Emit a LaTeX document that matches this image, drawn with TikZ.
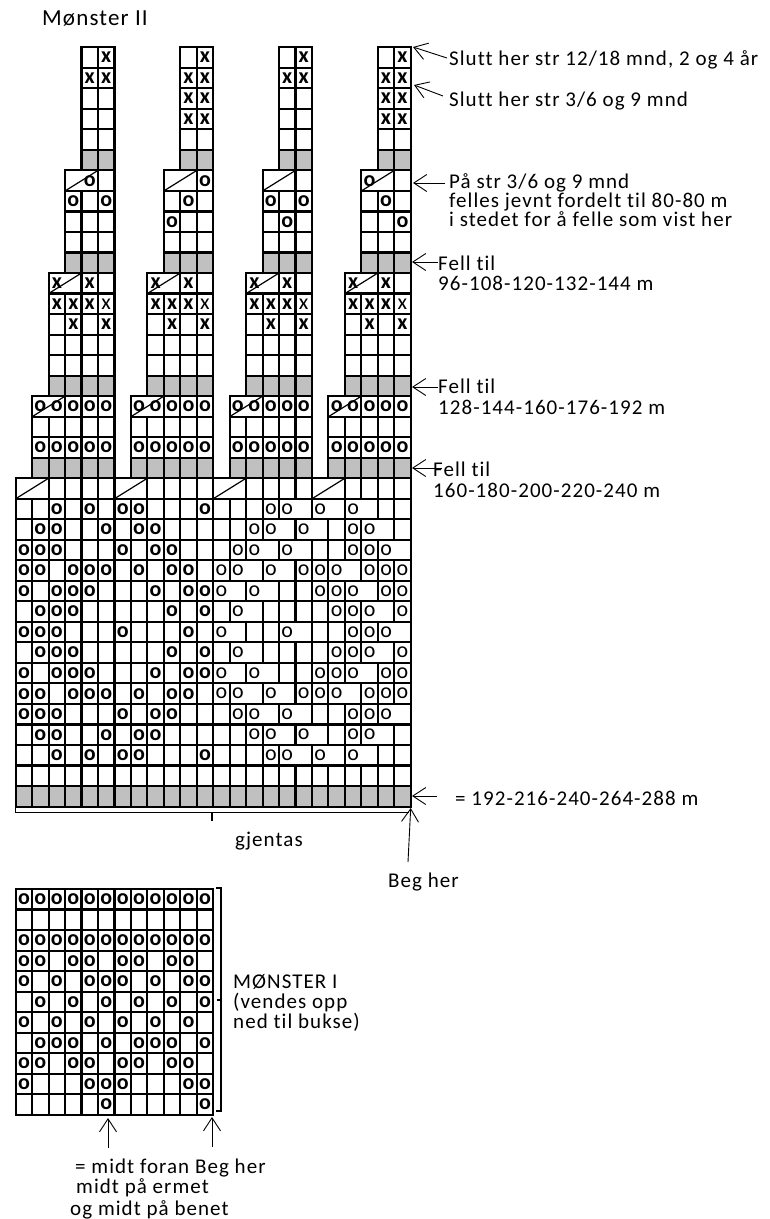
\documentclass[tikz,border=0pt]{standalone}
\usepackage{fontspec}
\setmainfont[Ligatures={NoCommon,NoContextual}]{Carlito}
\newfontfamily\lblfont[LetterSpace=5,Ligatures={NoCommon,NoContextual}]{Carlito}
\usetikzlibrary{arrows.meta}
\definecolor{cellgray}{HTML}{C0C0C0}
\tikzset{
  gridln/.style={line width=2.1pt, line cap=rect},
  slashln/.style={line width=1.2pt},
  symb/.style={inner sep=0pt, font=\fontsize{22}{22}\selectfont\bfseries},
  symt/.style={inner sep=0pt, font=\fontsize{22}{22}\selectfont},
  lbl/.style={inner sep=0pt, anchor=base west, font=\lblfont\fontsize{21}{21}\selectfont},
  note/.style={-{Straight Barb[length=13pt,width=17pt]}, line width=0.9pt},
  brk/.style={line width=1.3pt},
}
% symbols in a row: row, list of columns, style, character
\newcommand\symrow[4]{\foreach \c in {#2}{\pgfmathtruncatemacro\cc{\c}\node[#3] (s-#1-\cc) at (\cc+0.5,#1+0.5) {#4};}}
% pattern row: row, bold cols, thin cols, drawn vertical boundaries
\newcommand\prow[4]{%
  \foreach \b in {#4} \draw[gridln] (\b,#1) -- (\b,#1+1);
  \symrow{#1}{#2}{symb}{o}%
  \symrow{#1}{#3}{symt}{o}}
\newcommand\PA[1]{\prow{#1}{2,4,6,7,11}{15,16,18,20}{0,...,16,18,20,22,23,24}}
\newcommand\PB[1]{\prow{#1}{1,2,5,7,8}{14,15,17,20,21}{0,...,15,17,19,20,21,23,24}}
\newcommand\PC[1]{\prow{#1}{0,1,2,6,8,9}{13,14,16,20,21,22}{0,...,14,16,18,19,20,21,22,24}}
\newcommand\PD[1]{\prow{#1}{0,1,3,4,5,7,9,10}{12,13,15,17,18,19,21,22,23}{0,...,13,15,17,18,19,21,22,23,24}}
\newcommand\PE[1]{\prow{#1}{0,2,3,4,8,10,11}{12,14,18,19,20,22,23}{0,...,12,14,16,17,18,19,20,22,23,24}}
\newcommand\PF[1]{\prow{#1}{1,2,3,9,11}{13,19,20,21,23}{0,...,13,15,16,17,18,19,20,21,23,24}}
\newcommand\PG[1]{\prow{#1}{0,1,2,6,10}{12,16,20,21,22}{0,...,12,14,15,16,18,19,20,21,22,24}}
\begin{document}
\begin{tikzpicture}[x=1pt,y=-1pt]
\useasboundingbox (0,0) rectangle (769,1219);

% ===== Mønster II chart =====
\begin{scope}[shift={(15.7,47.3)}, x=16.46pt, y=-20.52pt]
  % gray fills
  \foreach \k in {0,...,3}{
    \pgfmathtruncatemacro\o{6*\k}
    \fill[cellgray] (\o+4,5) rectangle (\o+6,6);
    \fill[cellgray] (\o+3,10) rectangle (\o+6,11);
    \fill[cellgray] (\o+2,16) rectangle (\o+6,17);
    \fill[cellgray] (\o+1,20) rectangle (\o+6,21);
  }
  \fill[cellgray] (0,36) rectangle (24,37);
  % towers
  \foreach \k in {0,...,3}{
    \pgfmathtruncatemacro\o{6*\k}
    \foreach \r in {0,...,5} \foreach \c in {4,5} \draw[gridln] (\o+\c,\r) rectangle ++(1,1);
    \draw[gridln] (\o+3,6) rectangle ++(2,1);
    \draw[gridln] (\o+5,6) rectangle ++(1,1);
    \foreach \r in {7,...,10} \foreach \c in {3,4,5} \draw[gridln] (\o+\c,\r) rectangle ++(1,1);
    \draw[gridln] (\o+2,11) rectangle ++(2,1);
    \foreach \c in {4,5} \draw[gridln] (\o+\c,11) rectangle ++(1,1);
    \foreach \r in {12,...,16} \foreach \c in {2,...,5} \draw[gridln] (\o+\c,\r) rectangle ++(1,1);
    \draw[gridln] (\o+1,17) rectangle ++(2,1);
    \foreach \c in {3,4,5} \draw[gridln] (\o+\c,17) rectangle ++(1,1);
    \foreach \r in {18,19,20} \foreach \c in {1,...,5} \draw[gridln] (\o+\c,\r) rectangle ++(1,1);
    \draw[gridln] (\o,21) rectangle ++(2,1);
    \foreach \c in {2,...,5} \draw[gridln] (\o+\c,21) rectangle ++(1,1);
    % decrease slashes
    \draw[slashln] (\o+3,7) -- (\o+5,6);
    \draw[slashln] (\o+2,12) -- (\o+4,11);
    \draw[slashln] (\o+1,18) -- (\o+3,17);
    \draw[slashln] (\o,22) -- (\o+2,21);
    % common symbols
    \symrow{0}{\o+5}{symb}{x}
    \symrow{1}{\o+4,\o+5}{symb}{x}
    \symrow{11}{\o+2,\o+4}{symb}{x}
    \symrow{12}{\o+2,\o+3,\o+4}{symb}{x}
    \symrow{12}{\o+5}{symt}{x}
    \symrow{13}{\o+3,\o+5}{symb}{x}
    \symrow{17}{\o+1,\o+2,\o+3,\o+4,\o+5}{symb}{o}
    \symrow{19}{\o+1,\o+2,\o+3,\o+4,\o+5}{symb}{o}
  }
  \symrow{2}{10,11,22,23}{symb}{x}
  \symrow{3}{10,11,22,23}{symb}{x}
  \symrow{6}{4,11,21}{symb}{o}
  \symrow{7}{3,5,10,15,17,22}{symb}{o}
  \symrow{8}{9,16,23}{symb}{o}
  % body rows
  \foreach \r in {22,...,37} \draw[gridln] (0,\r) -- (24,\r);
  \foreach \r in {35,36} \foreach \b in {0,...,24} \draw[gridln] (\b,\r) -- (\b,\r+1);
  \PA{22}\PB{23}\PC{24}\PD{25}\PE{26}\PF{27}\PG{28}
  \PF{29}\PE{30}\PD{31}\PC{32}\PB{33}\PA{34}
\end{scope}

% ===== Mønster I chart =====
\begin{scope}[shift={(15.7,889)}, x=16.46pt, y=-20.52pt]
  \foreach \r in {0,...,10} \foreach \c in {0,...,11} \draw[gridln] (\c,\r) rectangle ++(1,1);
  \foreach \r/\cols in {0/{0,...,11}, 2/{0,...,11}, 3/{0,1,3,4,6,7,9,10},
      4/{0,2,4,5,6,8,10,11}, 5/{1,3,5,7,9,11}, 6/{0,2,4,6,8,10},
      7/{1,2,3,5,7,8,9,11}, 8/{0,1,3,4,6,7,9,10}, 9/{0,4,5,6,10,11}, 10/{5,11}}{
    \foreach \c in \cols \node[symb] (m-\r-\c) at (\c+0.5,\r+0.5) {o};
  }
\end{scope}

% ===== texts =====
\node[lbl] (title) at (42,25) {\fontsize{23}{23}\selectfont Mønster II};
\node[lbl] (l1) at (449,65) {Slutt her str 12/18 mnd, 2 og 4 år};
\node[lbl] (l2) at (449,106) {Slutt her str 3/6 og 9 mnd};
\node[lbl] (l3a) at (449,188) {På str 3/6 og 9 mnd};
\node[lbl] (l3b) at (449,207) {felles jevnt fordelt til 80-80 m};
\node[lbl] (l3c) at (449,226) {i stedet for å felle som vist her};
\node[lbl] (l4a) at (438,270) {Fell til};
\node[lbl] (l4b) at (438,290) {96-108-120-132-144 m};
\node[lbl] (l5a) at (438,393) {Fell til};
\node[lbl] (l5b) at (438,414) {128-144-160-176-192 m};
\node[lbl] (l6a) at (433,476) {Fell til};
\node[lbl] (l6b) at (433,497) {160-180-200-220-240 m};
\node[lbl] (l7) at (455,805) {= 192-216-240-264-288 m};
\node[lbl] (beg) at (388,887) {Beg her};
\node[lbl] (gj) at (235,846) {gjentas};
\node[lbl] (m1a) at (233,988) {MØNSTER I};
\node[lbl] (m1b) at (233,1008) {(vendes opp};
\node[lbl] (m1c) at (233,1028) {ned til bukse)};
\node[lbl] (b1) at (75,1173) {= midt foran Beg her};
\node[lbl] (b2) at (76,1193) {midt på ermet};
\node[lbl] (b3) at (70,1215) {og midt på benet};

% ===== arrows =====
\coordinate (a1t) at (413,47);   \coordinate (a1s) at (447,58);
\coordinate (a2t) at (414,85);   \coordinate (a2s) at (443,96);
\coordinate (a3t) at (413,183);  \coordinate (a3s) at (445,183);
\coordinate (a4t) at (412,262);  \coordinate (a4s) at (438,262);
\coordinate (a5t) at (412,387);  \coordinate (a5s) at (438,387);
\coordinate (a6t) at (412,468);  \coordinate (a6s) at (442,468);
\coordinate (a7t) at (412,796);  \coordinate (a7s) at (437,796);
\coordinate (bgt) at (410.7,808); \coordinate (bgs) at (408,862);
\coordinate (m1t) at (108,1118); \coordinate (m1s) at (108,1148);
\coordinate (m2t) at (212,1117); \coordinate (m2s) at (212,1147);
\foreach \a in {a1,a2,a3,a4,a5,a6,a7,bg,m1,m2} \draw[note] (\a s) -- (\a t);

% ===== brackets =====
\coordinate (g0) at (15.7,806); \coordinate (g1) at (15.7,812.5);
\coordinate (g2) at (409,812.5); \coordinate (gm) at (212,812.5); \coordinate (gd) at (212,821);
\draw[brk] (g0) -- (g1) -- (g2);
\draw[brk] (gm) -- (gd);
\coordinate (k0) at (216,888); \coordinate (k1) at (221,888);
\coordinate (k2) at (221,1111); \coordinate (k3) at (216,1111);
\coordinate (km) at (221,1000); \coordinate (kn) at (216.5,1000);
\draw[brk] (k0) -- (k1) -- (k2) -- (k3);
\draw[brk] (km) -- (kn);
\end{tikzpicture}
\end{document}
